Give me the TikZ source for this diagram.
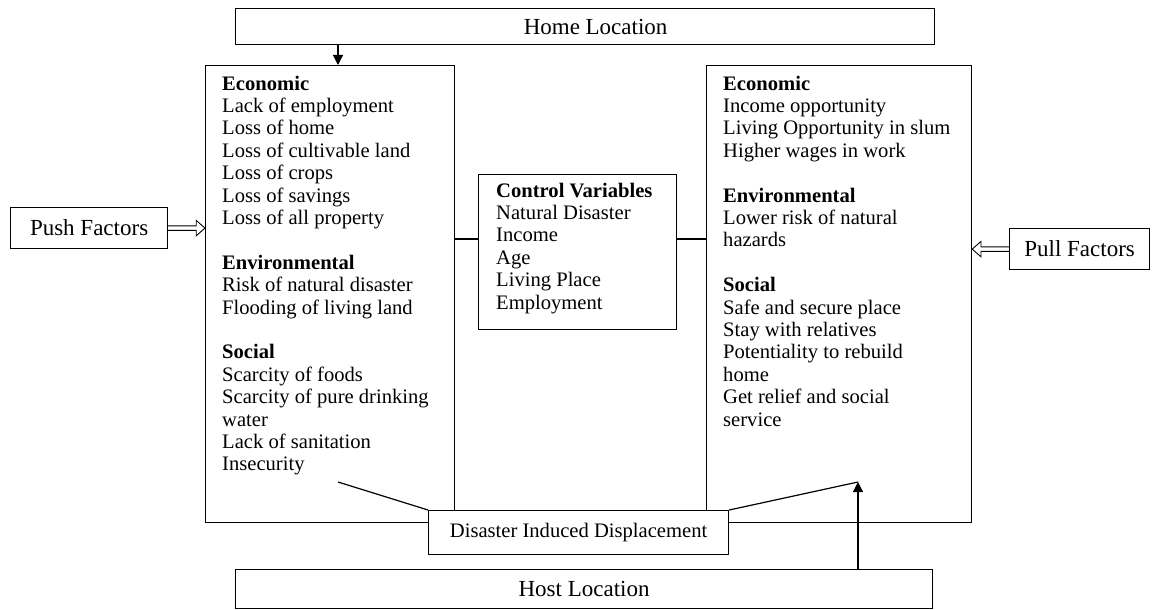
\documentclass[tikz,border=0pt]{standalone}
\usepackage{fontspec}
\setmainfont{Liberation Serif}
\usetikzlibrary{arrows.meta}
\begin{document}
\begin{tikzpicture}[x=1pt,y=-1pt,
  box/.style={draw, line width=1.2pt, inner sep=0pt, anchor=north west},
  big/.style={font=\fontsize{23}{26}\selectfont},
  small/.style={font=\fontsize{20.6}{22.4}\selectfont},
  txt/.style={anchor=base west, inner sep=0pt, font=\fontsize{20.6}{22.4}\selectfont},
  hd/.style={txt, font=\fontsize{20.6}{22.4}\selectfont\bfseries},
  conn/.style={line width=1.2pt},
  blockarr/.style={line width=0.9pt, line join=miter},
  arr/.style={line width=1.2pt, -{Triangle[length=10pt,width=10pt]}}]
\useasboundingbox (0,0) rectangle (1159,610);

% boxes
\node[box, big, minimum width=699pt, minimum height=36pt] (home) at (235,8) {\hspace*{21pt}Home Location};
\node[box, minimum width=249pt, minimum height=457pt] (lbox) at (205,65) {};
\node[box, minimum width=265pt, minimum height=457pt] (rbox) at (706,65) {};
\node[box, minimum width=198pt, minimum height=155pt] (cbox) at (478,174) {};
\node[box, big, minimum width=157pt, minimum height=41pt] (push) at (10,207) {Push Factors};
\node[box, big, minimum width=140pt, minimum height=41pt] (pull) at (1009,228) {Pull Factors};
\node[box, small, minimum width=300pt, minimum height=44pt, fill=white] (did) at (428,510) {Disaster Induced Displacement};
\node[box, big, minimum width=697pt, minimum height=39pt] (host) at (235,569) {Host Location};

% left list
\def\lx{222}
\node[hd]  (l0)  at (\lx, 90) {Economic};
\node[txt] (l1)  at (\lx, 112.4) {Lack of employment};
\node[txt] (l2)  at (\lx, 134.8) {Loss of home};
\node[txt] (l3)  at (\lx, 157.2) {Loss of cultivable land};
\node[txt] (l4)  at (\lx, 179.6) {Loss of crops};
\node[txt] (l5)  at (\lx, 202.0) {Loss of savings};
\node[txt] (l6)  at (\lx, 224.4) {Loss of all property};
\node[hd]  (l8)  at (\lx, 269.2) {Environmental};
\node[txt] (l9)  at (\lx, 291.6) {Risk of natural disaster};
\node[txt] (l10) at (\lx, 314.0) {Flooding of living land};
\node[hd]  (l12) at (\lx, 358.8) {Social};
\node[txt] (l13) at (\lx, 381.2) {Scarcity of foods};
\node[txt] (l14) at (\lx, 403.6) {Scarcity of pure drinking};
\node[txt] (l15) at (\lx, 426.0) {water};
\node[txt] (l16) at (\lx, 448.4) {Lack of sanitation};
\node[txt] (l17) at (\lx, 470.8) {Insecurity};

% right list
\def\rx{723}
\node[hd]  (r0)  at (\rx, 90) {Economic};
\node[txt] (r1)  at (\rx, 112.4) {Income opportunity};
\node[txt] (r2)  at (\rx, 134.8) {Living Opportunity in slum};
\node[txt] (r3)  at (\rx, 157.2) {Higher wages in work};
\node[hd]  (r5)  at (\rx, 202.0) {Environmental};
\node[txt] (r6)  at (\rx, 224.4) {Lower risk of natural};
\node[txt] (r7)  at (\rx, 246.8) {hazards};
\node[hd]  (r9)  at (\rx, 291.6) {Social};
\node[txt] (r10) at (\rx, 314.0) {Safe and secure place};
\node[txt] (r11) at (\rx, 336.4) {Stay with relatives};
\node[txt] (r12) at (\rx, 358.8) {Potentiality to rebuild};
\node[txt] (r13) at (\rx, 381.2) {home};
\node[txt] (r14) at (\rx, 403.6) {Get relief and social};
\node[txt] (r15) at (\rx, 426.0) {service};

% control variables
\def\cx{496}
\node[hd]  (c0) at (\cx, 197) {Control Variables};
\node[txt] (c1) at (\cx, 219.4) {Natural Disaster};
\node[txt] (c2) at (\cx, 241.8) {Income};
\node[txt] (c3) at (\cx, 264.2) {Age};
\node[txt] (c4) at (\cx, 286.6) {Living Place};
\node[txt] (c5) at (\cx, 309.0) {Employment};

% connectors
\coordinate (ha) at (338,0);
\coordinate (cl) at (478,239);
\coordinate (cr) at (676,239);
\coordinate (lt) at (338,482);
\coordinate (hx) at (858,482);

\draw[arr] (home.south -| ha) -- (ha |- lbox.north);
\draw[conn] (cl) -- (cl -| lbox.east);
\draw[conn] (cr) -- (cr -| rbox.west);
% hollow block arrows
\draw[blockarr] ([shift={(0,-2.2)}]push.east) -- ++(28,0) -- ++(0,-5.5)
  -- (push.east -| lbox.west) -- ([shift={(28,7.7)}]push.east) -- ++(0,-5.5) -- ++(-28,0);
\draw[blockarr] ([shift={(0,-2.2)}]pull.west) -- ++(-28,0) -- ++(0,-5.5)
  -- (pull.west -| rbox.east) -- ([shift={(-28,7.7)}]pull.west) -- ++(0,-5.5) -- ++(28,0);
\draw[conn] (lt) -- (did.north west);
\draw[conn] (did.north east) -- (hx);
\draw[arr] (host.north -| hx) -- (hx);
\end{tikzpicture}
\end{document}
